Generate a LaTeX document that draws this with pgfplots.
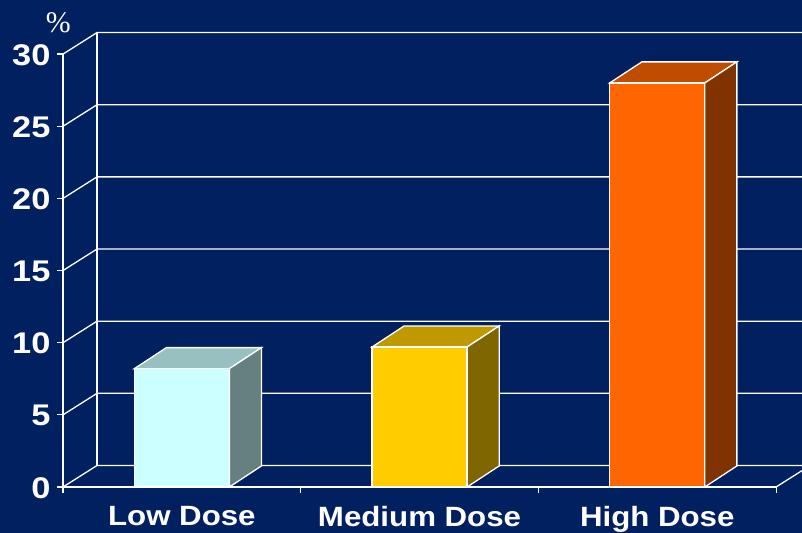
\documentclass[border=0pt]{standalone}
\usepackage{fontspec}
\usepackage{pgfplots}
\pgfplotsset{compat=1.18}
\newfontfamily\labfont[FakeStretch=1.12]{Liberation Sans}
\newfontfamily\numfont[FakeStretch=1.15]{Liberation Sans}
\newfontfamily\pctfont{Liberation Serif}
\definecolor{bg}{HTML}{002060}
\definecolor{lowF}{HTML}{CCFFFF}
\definecolor{lowT}{HTML}{99C0C0}
\definecolor{lowS}{HTML}{668080}
\definecolor{medF}{HTML}{FFCC00}
\definecolor{medT}{HTML}{BF9900}
\definecolor{medS}{HTML}{806600}
\definecolor{hiF}{HTML}{FF6600}
\definecolor{hiT}{HTML}{BF4C00}
\definecolor{hiS}{HTML}{803300}
\begin{document}
\begin{tikzpicture}
\useasboundingbox (0,0) rectangle (802bp,533bp);
\fill[bg] (0,0) rectangle (802bp,533bp);
\clip (0,0) rectangle (802bp,533bp);
\begin{axis}[
  at={(63bp,46bp)}, anchor=south west,
  x={(237.7bp,0)}, y={(0,14.43bp)},
  xmin=-0.5, xmax=2.65, ymin=0, ymax=31.5,
  clip=false,
  axis line style={draw=none},
  tick align=outside, xtick pos=bottom, ytick pos=left,
  major tick length=6bp,
  tick style={white, line width=1.2bp},
  ytick={0,5,...,30},
  yticklabel={\pgfmathprintnumber[assume math mode=true]{\tick}},
  yticklabel style={font=\numfont\bfseries\fontsize{30}{30}\selectfont, text=white, yshift=-1bp, xshift=-3bp},
  xtick={-0.5,0.5,1.5,2.5},
  xticklabels={{},{},{},{}},
  extra x ticks={0,1,2},
  extra x tick labels={Low Dose,Medium Dose,High Dose},
  extra x tick style={tick style={draw=none},
    xticklabel style={font=\labfont\bfseries\fontsize{28}{30}\selectfont, text=white, yshift=-10bp}},
  every axis plot/.append style={line width=1.3bp},
]
% back wall gridlines
\addplot[white, mark=none] coordinates {(-0.5,5) (-0.357,6.49) (2.65,6.49)};
\addplot[white, mark=none] coordinates {(-0.5,10) (-0.357,11.49) (2.65,11.49)};
\addplot[white, mark=none] coordinates {(-0.5,15) (-0.357,16.49) (2.65,16.49)};
\addplot[white, mark=none] coordinates {(-0.5,20) (-0.357,21.49) (2.65,21.49)};
\addplot[white, mark=none] coordinates {(-0.5,25) (-0.357,26.49) (2.65,26.49)};
\addplot[white, mark=none] coordinates {(-0.5,30) (-0.357,31.49) (2.65,31.49)};
% back wall edge and floor
\addplot[white, mark=none] coordinates {(-0.357,31.49) (-0.357,1.49)};
\addplot[white, mark=none] coordinates {(-0.5,0) (-0.357,1.49) (2.65,1.49)};
\addplot[white, mark=none] coordinates {(2.5,0) (2.643,1.49)};
\addplot[white, mark=none] coordinates {(-0.5,0) (2.5,0)};
% Low Dose
\addplot[fill=lowT, draw=white, mark=none] coordinates {(-0.2,8.2) (0.2,8.2) (0.335,9.66) (-0.065,9.66)} -- cycle;
\addplot[fill=lowS, draw=white, mark=none] coordinates {(0.2,0) (0.335,1.46) (0.335,9.66) (0.2,8.2)} -- cycle;
\addplot[fill=lowF, draw=white, mark=none] coordinates {(-0.2,0) (0.2,0) (0.2,8.2) (-0.2,8.2)} -- cycle;
% Medium Dose
\addplot[fill=medT, draw=white, mark=none] coordinates {(0.8,9.7) (1.2,9.7) (1.335,11.16) (0.935,11.16)} -- cycle;
\addplot[fill=medS, draw=white, mark=none] coordinates {(1.2,0) (1.335,1.46) (1.335,11.16) (1.2,9.7)} -- cycle;
\addplot[fill=medF, draw=white, mark=none] coordinates {(0.8,0) (1.2,0) (1.2,9.7) (0.8,9.7)} -- cycle;
% High Dose
\addplot[fill=hiT, draw=white, mark=none] coordinates {(1.8,28) (2.2,28) (2.335,29.46) (1.935,29.46)} -- cycle;
\addplot[fill=hiS, draw=white, mark=none] coordinates {(2.2,0) (2.335,1.46) (2.335,29.46) (2.2,28)} -- cycle;
\addplot[fill=hiF, draw=white, mark=none] coordinates {(1.8,0) (2.2,0) (2.2,28) (1.8,28)} -- cycle;
% front axis
\addplot[white, mark=none] coordinates {(-0.5,0) (-0.5,30)};
\node[text=white, font=\pctfont\fontsize{30}{30}\selectfont] at (axis cs:-0.52,32.2) {\%};
\end{axis}
\end{tikzpicture}
\end{document}
